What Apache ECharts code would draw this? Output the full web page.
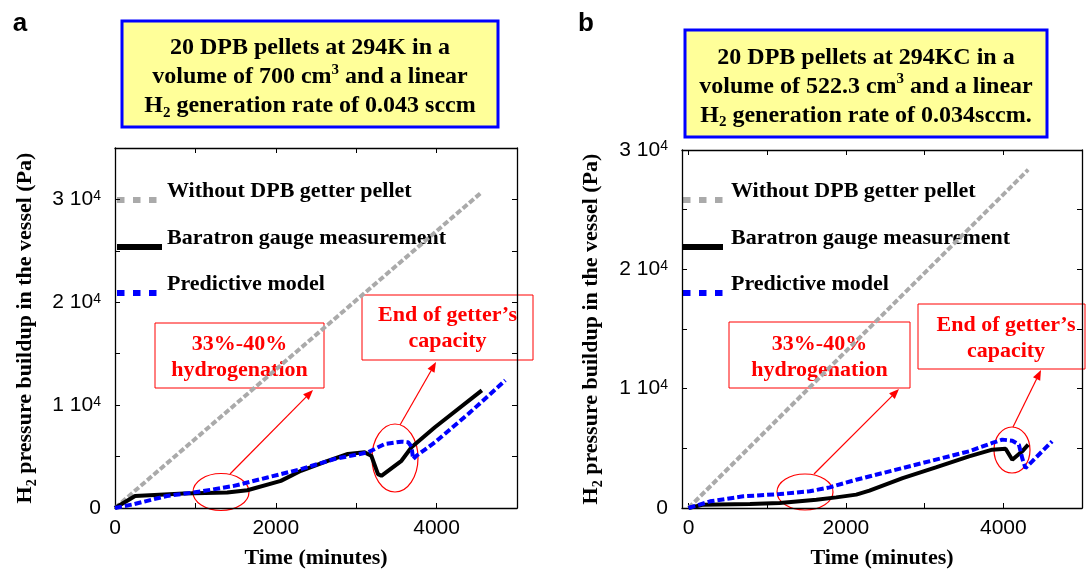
<!DOCTYPE html>
<html>
<head>
<meta charset="utf-8">
<script src="https://cdn.jsdelivr.net/npm/echarts@6/dist/echarts.min.js"></script>
<style>
html, body { margin: 0; padding: 0; background: #fff; }
#main { width: 1086px; height: 569px; }
</style>
</head>
<body>
<div id="main"></div>
<script>
// ---- panel a data (time in minutes, pressure in Pa) ----
var grayTimeA = [0, 4560];
var grayPressA = [0, 30700];
var baraTimeA = [0, 250, 854, 1396, 1646, 2063, 2313, 2646, 2896, 3104, 3188, 3271, 3313, 3563, 3688, 3979, 4563];
var baraPressA = [0, 1170, 1400, 1500, 1730, 2640, 3620, 4590, 5250, 5410, 5080, 3290, 3130, 4590, 5900, 7850, 11440];
var modelTimeA = [0, 229, 646, 1063, 1479, 1896, 2313, 2729, 3146, 3354, 3563, 3646, 3688, 3708, 3750, 3979, 4396, 4854];
var modelPressA = [0, 360, 1170, 1600, 2150, 2970, 3780, 4760, 5410, 6220, 6450, 6390, 5960, 4760, 5080, 6390, 9160, 12410];

// ---- panel b data ----
var grayTimeB = [0, 4316];
var grayPressB = [0, 28350];
var baraTimeB = [0, 190, 781, 1160, 1624, 1877, 2131, 2299, 2721, 3143, 3565, 3860, 4029, 4114, 4240, 4316];
var baraPressB = [0, 280, 340, 420, 700, 890, 1120, 1450, 2510, 3410, 4330, 4890, 4970, 4050, 4750, 5310];
var modelTimeB = [0, 274, 696, 1160, 1540, 1793, 2131, 2721, 3143, 3565, 3860, 3987, 4114, 4198, 4240, 4282, 4367, 4620];
var modelPressB = [0, 560, 980, 1170, 1400, 1730, 2370, 3350, 4050, 4750, 5450, 5730, 5640, 5310, 4190, 3350, 3910, 5590];

var names = ['Without DPB getter pellet', 'Baratron gauge measurement', 'Predictive model'];
var xTicks = [0, 1000, 2000, 3000, 4000, 5000];
var xLabels = [0, 2000, 4000];

var SERIF = '"Liberation Serif", "Times New Roman", serif';
var SANS = '"Liberation Sans", Arial, sans-serif';

var GRAY = '#aaaaaa', BLACK = '#000000', BLUE = '#0000ff';

function pairs(xs, ys) {
	return xs.map(function(x, i) { return [x, ys[i]]; });
}

var myChart = echarts.init(document.getElementById('main'));

function yLabel(v) {
	if (v === 0) return '0';
	if (v % 10000 !== 0) return '';
	return (v / 10000) + ' 10{p|4}';
}

var tickStyle = { show: true, inside: true, length: 5, lineStyle: { color: '#000', width: 1 } };
var lineAx = { show: true, onZero: false, lineStyle: { color: '#000', width: 1.3 } };

function xAxisPair(grid, min) {
	var bottom = {
		gridIndex: grid, type: 'value', position: 'bottom', min: min, max: 5000,
		axisLine: lineAx, splitLine: { show: false },
		axisTick: Object.assign({ customValues: xTicks }, tickStyle),
		axisLabel: {
			customValues: xLabels, color: '#000', fontFamily: SANS, fontSize: 21, margin: 10,
			formatter: function(v) { return String(v); }
		},
		name: 'Time (minutes)', nameLocation: 'middle', nameGap: 39,
		nameTextStyle: { fontFamily: SERIF, fontSize: 22, fontWeight: 'bold', color: '#000' }
	};
	var top = {
		gridIndex: grid, type: 'value', position: 'top', min: min, max: 5000,
		axisLine: lineAx, splitLine: { show: false },
		axisTick: Object.assign({ customValues: xTicks }, tickStyle),
		axisLabel: { show: false }
	};
	return [bottom, top];
}

function yAxisPair(grid, max, gap) {
	var left = {
		gridIndex: grid, type: 'value', position: 'left', min: 0, max: max, interval: 5000,
		axisLine: lineAx, splitLine: { show: false }, axisTick: tickStyle,
		axisLabel: {
			color: '#000', fontFamily: SANS, fontSize: 21, margin: 14, formatter: yLabel,
			rich: { p: { fontSize: 14, fontFamily: SANS, color: '#000', verticalAlign: 'top', lineHeight: 14 } }
		},
		name: '{b|H}{s|2}{b| pressure buildup in the vessel (Pa)}', nameLocation: 'middle', nameGap: gap,
		nameTextStyle: {
			fontFamily: SERIF, fontSize: 22, fontWeight: 'bold', color: '#000',
			rich: {
				b: { fontFamily: SERIF, fontSize: 22, fontWeight: 'bold', color: '#000', lineHeight: 28 },
				s: { fontFamily: SERIF, fontSize: 14, fontWeight: 'bold', color: '#000', lineHeight: 14, verticalAlign: 'bottom' }
			}
		}
	};
	var right = {
		gridIndex: grid, type: 'value', position: 'right', min: 0, max: max, interval: 5000,
		axisLine: lineAx, splitLine: { show: false }, axisTick: tickStyle, axisLabel: { show: false }
	};
	return [left, right];
}

function panelSeries(xi, yi, gT, gP, bT, bP, mT, mP) {
	return [{
		name: names[0], type: 'line', xAxisIndex: xi, yAxisIndex: yi, symbol: 'none', z: 2,
		color: GRAY, lineStyle: { color: GRAY, width: 4, type: [6, 2.5] },
		data: pairs(gT, gP)
	}, {
		name: names[1], type: 'line', xAxisIndex: xi, yAxisIndex: yi, symbol: 'none', z: 3,
		color: BLACK, lineStyle: { color: BLACK, width: 4 },
		data: pairs(bT, bP)
	}, {
		name: names[2], type: 'line', xAxisIndex: xi, yAxisIndex: yi, symbol: 'none', z: 4,
		color: BLUE, lineStyle: { color: BLUE, width: 4, type: [7, 3] },
		data: pairs(mT, mP)
	}];
}

// legend drawn as graphic items (marker sits a little below the text, as in the figure)
function legendAt(x0, w, textX) {
	var rows = [200, 247, 293];
	var styles = [
		{ stroke: GRAY, lineWidth: 6, lineDash: [7.5, 8.5] },
		{ stroke: BLACK, lineWidth: 6 },
		{ stroke: BLUE, lineWidth: 6, lineDash: [7.5, 8.5] }
	];
	var out = [];
	rows.forEach(function(y, i) {
		out.push({ type: 'line', shape: { x1: x0, y1: y, x2: x0 + w, y2: y }, style: styles[i] });
		out.push({
			type: 'text', x: textX, y: y - 9,
			style: { text: names[i], align: 'left', verticalAlign: 'middle', fill: '#000', fontFamily: SERIF, fontSize: 22, fontWeight: 'bold' }
		});
	});
	return out;
}

function arrow(x1, y1, x2, y2) {
	var a = Math.atan2(y2 - y1, x2 - x1), L = 10, W = 4;
	var bx = x2 - L * Math.cos(a), by = y2 - L * Math.sin(a);
	return [{
		type: 'line', shape: { x1: x1, y1: y1, x2: bx, y2: by }, style: { stroke: '#ff0000', lineWidth: 1.2 }
	}, {
		type: 'polygon',
		shape: { points: [[x2, y2], [bx + W * Math.sin(a), by - W * Math.cos(a)], [bx - W * Math.sin(a), by + W * Math.cos(a)]] },
		style: { fill: '#ff0000' }
	}];
}

function redBox(x, y, w, h, tx, ty, txt) {
	return [{
		type: 'rect', shape: { x: x, y: y, width: w, height: h }, style: { fill: null, stroke: '#ff0000', lineWidth: 1 }
	}, {
		type: 'text', x: tx, y: ty,
		style: { text: txt, align: 'center', verticalAlign: 'middle', fill: '#ff0000', fontFamily: SERIF, fontSize: 22, fontWeight: 'bold', lineHeight: 26 }
	}];
}

function ring(cx, cy, rx, ry) {
	return { type: 'ellipse', shape: { cx: cx, cy: cy, rx: rx, ry: ry }, style: { fill: null, stroke: '#ff0000', lineWidth: 1.2 } };
}

var richTitle = {
	sup: { fontFamily: SERIF, fontSize: 15, fontWeight: 'bold', fill: '#000', verticalAlign: 'top', lineHeight: 15 },
	sub: { fontFamily: SERIF, fontSize: 15, fontWeight: 'bold', fill: '#000', verticalAlign: 'bottom', lineHeight: 15 }
};

function titleBox(x, y, w, h, txt) {
	return [{
		type: 'rect', shape: { x: x, y: y, width: w, height: h }, style: { fill: '#ffff99', stroke: '#0000ff', lineWidth: 3 }
	}, {
		type: 'text', x: x + w / 2, y: y + h / 2 + 3,
		style: { text: txt, align: 'center', verticalAlign: 'middle', fill: '#000', fontFamily: SERIF, fontSize: 24, fontWeight: 'bold', lineHeight: 29, rich: richTitle }
	}];
}

var graphics = [].concat(
	titleBox(122, 21, 376, 106, '20 DPB pellets at 294K in a\nvolume of 700 cm{sup|3} and a linear\nH{sub|2} generation rate of 0.043 sccm'),
	titleBox(685, 30, 362, 107, '20 DPB pellets at 294KC in a\nvolume of 522.3 cm{sup|3} and a linear\nH{sub|2} generation rate of 0.034sccm.'),
	[{ type: 'text', x: 20, y: 24, style: { text: 'a', align: 'center', verticalAlign: 'middle', fill: '#000', fontFamily: SANS, fontSize: 26, fontWeight: 'bold' } },
	 { type: 'text', x: 586, y: 24, style: { text: 'b', align: 'center', verticalAlign: 'middle', fill: '#000', fontFamily: SANS, fontSize: 26, fontWeight: 'bold' } }],
	legendAt(117, 45, 167),
	legendAt(683, 40, 731),
	redBox(155, 323, 169, 65, 239.5, 357, '33%-40%\nhydrogenation'),
	redBox(362, 295, 171, 65, 447.5, 328, 'End of getter\u2019s\ncapacity'),
	redBox(729, 322, 181, 66, 819.5, 357, '33%-40%\nhydrogenation'),
	redBox(918, 304, 167, 65, 1006, 338, 'End of getter\u2019s\ncapacity'),
	[ring(221, 492, 28, 18.5), ring(395, 458, 23, 34), ring(805, 492, 28, 18), ring(1012, 450, 18, 23)],
	arrow(230, 474, 313, 390), arrow(400, 425, 436, 362),
	arrow(814, 474, 899, 389), arrow(1013, 427, 1041, 370)
);

var option = {
	animation: false,
	backgroundColor: '#fff',
	textStyle: { fontFamily: SANS },
	grid: [
		{ left: 115, top: 148, width: 402, height: 360, outerBoundsMode: 'none' },
		{ left: 682, top: 150, width: 400, height: 358, outerBoundsMode: 'none' }
	],
	xAxis: [].concat(xAxisPair(0, 0), xAxisPair(1, -83)),
	yAxis: [].concat(yAxisPair(0, 35000, 76), yAxisPair(1, 30000, 77)),
	series: [].concat(
		panelSeries(0, 0, grayTimeA, grayPressA, baraTimeA, baraPressA, modelTimeA, modelPressA),
		panelSeries(2, 2, grayTimeB, grayPressB, baraTimeB, baraPressB, modelTimeB, modelPressB)
	),
	graphic: graphics
};
myChart.setOption(option);
</script>
</body>
</html>
